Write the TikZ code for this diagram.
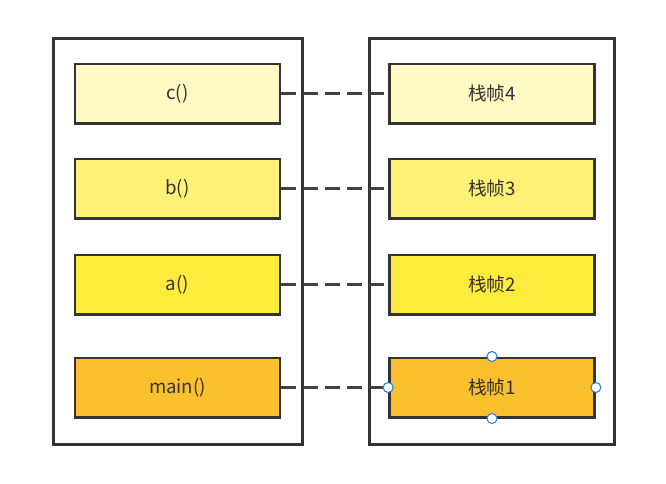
\documentclass[tikz,border=0pt]{standalone}
\usepackage{fontspec}
\setmainfont{Noto Sans CJK SC}
\begin{document}
\begin{tikzpicture}[x=0.75pt,y=-0.75pt,
  outerbox/.style={draw=black!80,line width=2pt},
  fbox/.style={draw=black!80,line width=2pt,minimum width=153.75pt,minimum height=44.5pt,inner sep=0pt,font=\fontsize{14}{16}\selectfont,text=black!80},
  link/.style={draw=black!75,line width=2pt,dash pattern=on 11pt off 5.5pt},
  handle/.style={circle,draw={rgb,255:red,41;green,128;blue,230},fill=white,line width=0.8pt,minimum size=7.5pt,inner sep=0pt}]
\useasboundingbox[fill=white] (0,0) rectangle (666,483);
\definecolor{cC}{HTML}{FFF9C4}
\definecolor{cB}{HTML}{FFF176}
\definecolor{cA}{HTML}{FFEB3B}
\definecolor{cM}{HTML}{FBC02D}
\draw[outerbox] (53.5,38.5) rectangle (302.5,444.5);
\draw[outerbox] (369.5,38.5) rectangle (614.5,444.5);
\node[fbox,fill=cC] (lc) at (177.5,93.5) {c()};
\node[fbox,fill=cB] (lb) at (177.5,188.5) {b()};
\node[fbox,fill=cA] (la) at (177.5,284.5) {a()};
\node[fbox,fill=cM] (lm) at (177.5,387.5) {main()};
\node[fbox,fill=cC] (rc) at (492,93.5) {栈帧4};
\node[fbox,fill=cB] (rb) at (492,188.5) {栈帧3};
\node[fbox,fill=cA] (ra) at (492,284.5) {栈帧2};
\node[fbox,fill=cM] (rm) at (492,387.5) {栈帧1};
\draw[link] (lc.east) -- (rc.west);
\draw[link] (lb.east) -- (rb.west);
\draw[link] (la.east) -- (ra.west);
\draw[link] (lm.east) -- (rm.west);
\node[handle] (h1) at (rm.north) {};
\node[handle] (h2) at (rm.south) {};
\node[handle] (h3) at (rm.west) {};
\node[handle] (h4) at (rm.east) {};
\end{tikzpicture}
\end{document}
